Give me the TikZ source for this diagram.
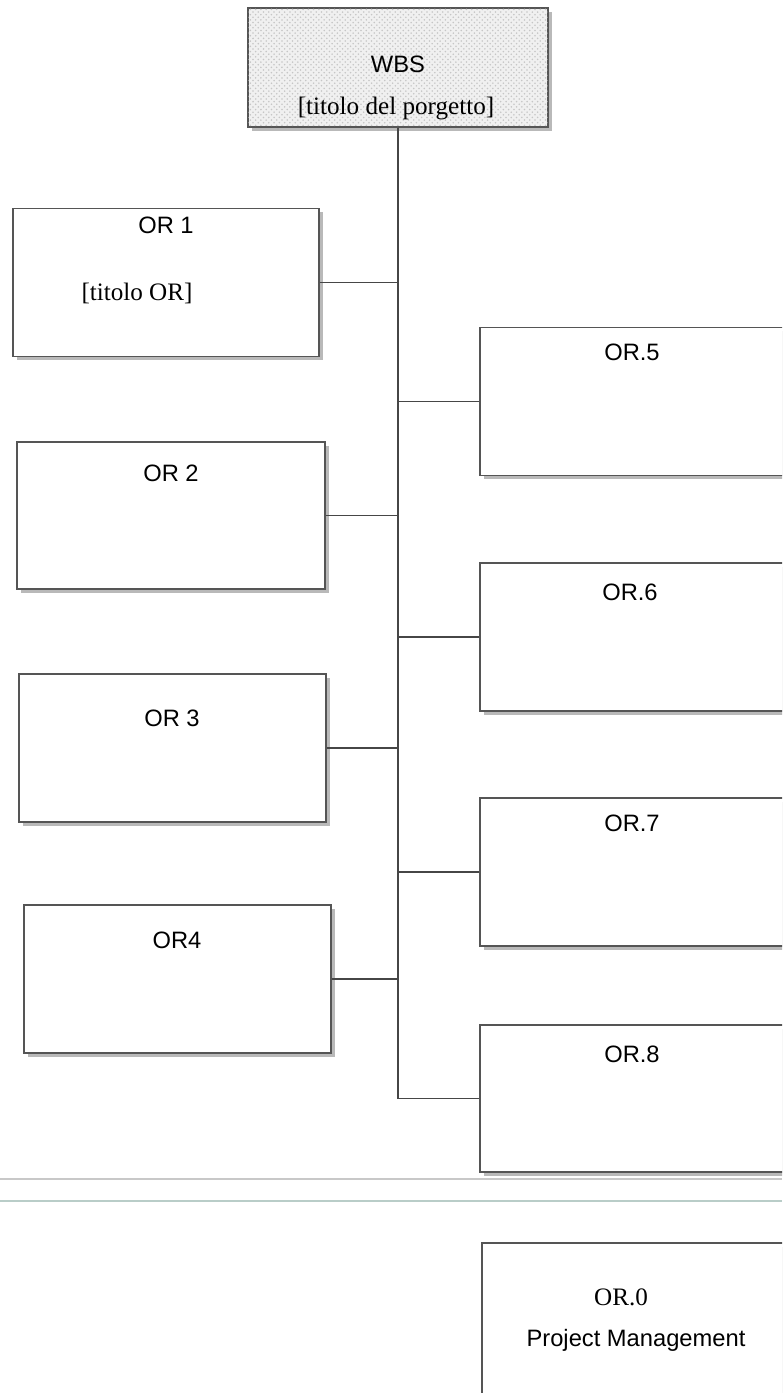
\documentclass[tikz,border=0pt]{standalone}
\usepackage{fontspec}
\setmainfont{Liberation Serif}
\setsansfont{Liberation Sans}
\usepackage{tikz}
\usetikzlibrary{shadows, patterns, positioning}
\usepackage{xcolor}
\definecolor{boxline}{RGB}{85, 85, 85}
\definecolor{linkgray}{RGB}{70, 70, 70}
\definecolor{wbsfill}{RGB}{240, 240, 240}
\definecolor{sepgray}{RGB}{200, 200, 200}
\definecolor{septeal}{RGB}{185, 205, 200}

\begin{document}
\begin{tikzpicture}[x=0.02cm, y=-0.02cm,
  orbox/.style={draw=boxline, line width=0.7pt, fill=white, inner sep=0pt, minimum height=2.96cm,
    drop shadow={shadow xshift=2.2pt, shadow yshift=-2.2pt, fill=black!50, opacity=0.55}},
  ortitle/.style={font=\sffamily\fontsize{13.5}{15}\selectfont, inner sep=1pt},
  orserif/.style={font=\fontsize{14.3}{16}\selectfont, inner sep=1pt},
  link/.style={draw=linkgray, line width=0.7pt}]
\useasboundingbox (0,0) rectangle (782,1393);
\clip (0,0) rectangle (782,1393);

% top of the breakdown
\node[orbox, fill=wbsfill, postaction={pattern=crosshatch dots, pattern color=gray!45}, minimum width=6cm, minimum height=2.38cm] (wbs) at (398,67.5) {};
\node[ortitle] (wbst) at (398,64) {WBS};
\node[orserif] (wbsn) at (396,108) {[titolo del porgetto]};

% left column
\node[orbox, minimum width=6.12cm] (or1) at (166,282.5) {};
\node[ortitle] (or1t) at (166,225) {OR 1};
\node[orserif] (or1n) at (137,293) {[titolo OR]};
\node[orbox, minimum width=6.16cm, minimum height=2.94cm] (or2) at (171,515.5) {};
\node[ortitle] (or2t) at (171,473) {OR 2};
\node[orbox, minimum width=6.14cm] (or3) at (172.5,748) {};
\node[ortitle] (or3t) at (172,718) {OR 3};
\node[orbox, minimum width=6.14cm] (or4) at (177.5,979) {};
\node[ortitle] (or4t) at (177,940) {OR4};

% right column
\node[orbox, minimum width=6.24cm] (or5) at (636,401.5) {};
\node[ortitle] (or5t) at (632,352) {OR.5};
\node[orbox, minimum width=6.24cm] (or6) at (636,637) {};
\node[ortitle] (or6t) at (630,592) {OR.6};
\node[orbox, minimum width=6.24cm] (or7) at (636,872) {};
\node[ortitle] (or7t) at (632,823) {OR.7};
\node[orbox, minimum width=6.24cm, minimum height=2.94cm] (or8) at (636,1098.5) {};
\node[ortitle] (or8t) at (632,1054) {OR.8};

\draw[link] (wbs.south) -- (wbs.south |- or8.west) -- (or8.west);
\draw[link] (or1.east) -- (or1.east -| wbs.south);
\draw[link] (or2.east) -- (or2.east -| wbs.south);
\draw[link] (or3.east) -- (or3.east -| wbs.south);
\draw[link] (or4.east) -- (or4.east -| wbs.south);
\draw[link] (or5.west) -- (or5.west -| wbs.south);
\draw[link] (or6.west) -- (or6.west -| wbs.south);
\draw[link] (or7.west) -- (or7.west -| wbs.south);

% separator
\draw[sepgray, line width=0.8pt] (0,1179) -- (782,1179);
\draw[septeal, line width=0.8pt] (0,1201) -- (782,1201);

% project management
\node[orbox, minimum width=6.2cm, minimum height=3.14cm] (or0) at (637,1321.5) {};
\node[orserif] (or0t) at (621,1297) {OR.0};
\node[ortitle] (or0n) at (636,1340) {Project Management};
\end{tikzpicture}
\end{document}
